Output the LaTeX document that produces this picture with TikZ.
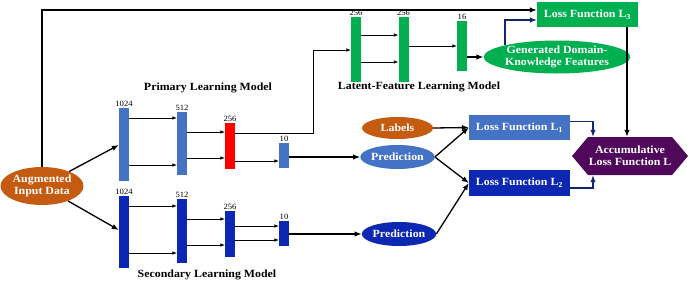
\documentclass[tikz,border=0pt]{standalone}
\usepackage{fontspec}
\setmainfont{Liberation Serif}[FakeStretch=1.08]
\usetikzlibrary{arrows.meta,shapes.geometric,shapes.symbols}

\definecolor{pblue}{RGB}{68,114,196}
\definecolor{sblue}{RGB}{12,40,178}
\definecolor{lgreen}{RGB}{0,176,80}
\definecolor{rorange}{RGB}{197,90,17}
\definecolor{dpurple}{RGB}{80,8,90}
\definecolor{navyline}{RGB}{20,40,110}

\begin{document}
\begin{tikzpicture}[x=1pt, y=-1pt, >=Latex,
    bar/.style={fill=#1, minimum width=10pt, inner sep=0pt, anchor=north},
    numlab/.style={font=\fontsize{8}{9}\selectfont, inner sep=1pt},
    boxtxt/.style={text=white, font=\fontsize{11}{12}\selectfont\bfseries},
    oval/.style={ellipse, boxtxt, inner sep=0pt, align=center},
    lossbox/.style={rectangle, boxtxt, minimum width=101pt, minimum height=25pt},
    title/.style={font=\fontsize{11}{12}\selectfont\bfseries},
    thinarr/.style={->, line width=0.6pt, >={Latex[length=4.5pt,width=3.5pt]}},
    mainarr/.style={->, line width=1.3pt, >={Latex[length=7pt,width=5.5pt]}},
    navyarr/.style={->, line width=1.2pt, draw=navyline, >={Latex[length=7pt,width=5.5pt]}}]
    \useasboundingbox (0,0) rectangle (692,284);

    % input
    \node[oval, fill=rorange, minimum width=80pt, minimum height=38pt] (aug) at (42,186) {Augmented\\Input Data};

    % primary model
    \node[bar=pblue, minimum height=73pt, label={[numlab]above:1024}] (p1) at (124,108) {};
    \node[bar=pblue, minimum height=63pt, label={[numlab]above:512}] (p2) at (182,112) {};
    \node[bar=red, minimum height=46pt, label={[numlab]above:256}] (p3) at (230,123) {};
    \node[bar=pblue, minimum height=25pt, label={[numlab]above:10}] (p4) at (284,143) {};
    \node[title] (ptitle) at (208,88) {Primary Learning Model};

    % secondary model
    \node[bar=sblue, minimum height=72pt, label={[numlab]above:1024}] (s1) at (124,196) {};
    \node[bar=sblue, minimum height=64pt, label={[numlab]above:512}] (s2) at (182,199) {};
    \node[bar=sblue, minimum height=46pt, label={[numlab]above:256}] (s3) at (230,211) {};
    \node[bar=sblue, minimum height=25pt, label={[numlab]above:10}] (s4) at (284,221) {};
    \node[title] (stitle) at (207,275) {Secondary Learning Model};

    % latent-feature model
    \node[bar=lgreen, minimum height=65pt, label={[numlab]above:256}] (g1) at (356,17) {};
    \node[bar=lgreen, minimum height=65pt, label={[numlab]above:256}] (g2) at (403.5,17) {};
    \node[bar=lgreen, minimum height=50pt, label={[numlab]above:16}] (g3) at (462,21) {};
    \node[title] (ltitle) at (419,87) {Latent-Feature Learning Model};
    \node[oval, fill=lgreen, minimum width=127pt, minimum height=33pt] (gen) at (557,57) {Generated Domain-\\Knowledge Features};

    % outputs and losses
    \node[oval, fill=rorange, minimum width=71pt, minimum height=22pt] (labels) at (397.5,128) {Labels};
    \node[oval, fill=pblue, minimum width=71pt, minimum height=24pt] (pred1) at (397.5,157) {Prediction};
    \node[oval, fill=sblue, minimum width=74pt, minimum height=24pt] (pred2) at (399,234) {Prediction};
    \node[lossbox, fill=lgreen] (l3) at (587.5,14.5) {Loss Function L\textsubscript{3}};
    \node[lossbox, fill=pblue] (l1) at (519.5,127.5) {Loss Function L\textsubscript{1}};
    \node[lossbox, fill=sblue, minimum height=26pt] (l2) at (519.5,183) {Loss Function L\textsubscript{2}};
    \node[signal, signal to=west and east, signal pointer angle=100, fill=dpurple, boxtxt, align=center,
      minimum width=116pt, minimum height=38pt, inner sep=0pt] (acc) at (630,156) {Accumulative\\Loss Function L};

    % connectors
    \draw[mainarr] (aug) -- (p1.west |- 0,145);
    \draw[mainarr] (aug) -- (s1.west |- 0,230);
    \foreach \y in {118,165} \draw[thinarr] (p1.east |- 0,\y) -- (p2.west |- 0,\y);
    \foreach \y in {132,158} \draw[thinarr] (p2.east |- 0,\y) -- (p3.west |- 0,\y);
    \draw[thinarr] (p3.east |- 0,161) -- (p4.west |- 0,161);
    \foreach \y in {206,253} \draw[thinarr] (s1.east |- 0,\y) -- (s2.west |- 0,\y);
    \foreach \y in {219,245} \draw[thinarr] (s2.east |- 0,\y) -- (s3.west |- 0,\y);
    \foreach \y in {226,240} \draw[thinarr] (s3.east |- 0,\y) -- (s4.west |- 0,\y);
    \foreach \y in {35,62} \draw[thinarr] (g1.east |- 0,\y) -- (g2.west |- 0,\y);
    \draw[thinarr] (g2.east |- 0,46) -- (g3.west |- 0,46);
    \draw[thinarr] (p3.east |- 0,133) -- (313,133) |- (g1.west |- 0,50);
    \draw[mainarr] (p4.east |- pred1.west) -- (pred1.west);
    \draw[mainarr] (s4.east |- pred2.west) -- (pred2.west);
    \draw[mainarr] (g3.east |- gen.west) -- (gen.west);
    \draw[mainarr] (aug.north) |- ([yshift=4.5pt]l3.west);
    \draw[navyarr] (gen.north west) |- ([yshift=-5.5pt]l3.west);
    \draw[mainarr] (labels.east) -- (l1.west);
    \draw[mainarr] (pred1.east) -- (l1.west);
    \draw[mainarr] (pred1.east) -- (l2.west);
    \draw[mainarr] (pred2.east) -- (l2.west);
    \draw[navyarr] ([yshift=6pt]l1.east) -| ([xshift=-37pt]acc.north);
    \draw[navyarr] ([yshift=-5pt]l2.east) -| ([xshift=-37pt]acc.south);
    \draw[mainarr] ([xshift=-3pt]acc.north |- l3.south) -- ([xshift=-3pt]acc.north);
\end{tikzpicture}
\end{document}
